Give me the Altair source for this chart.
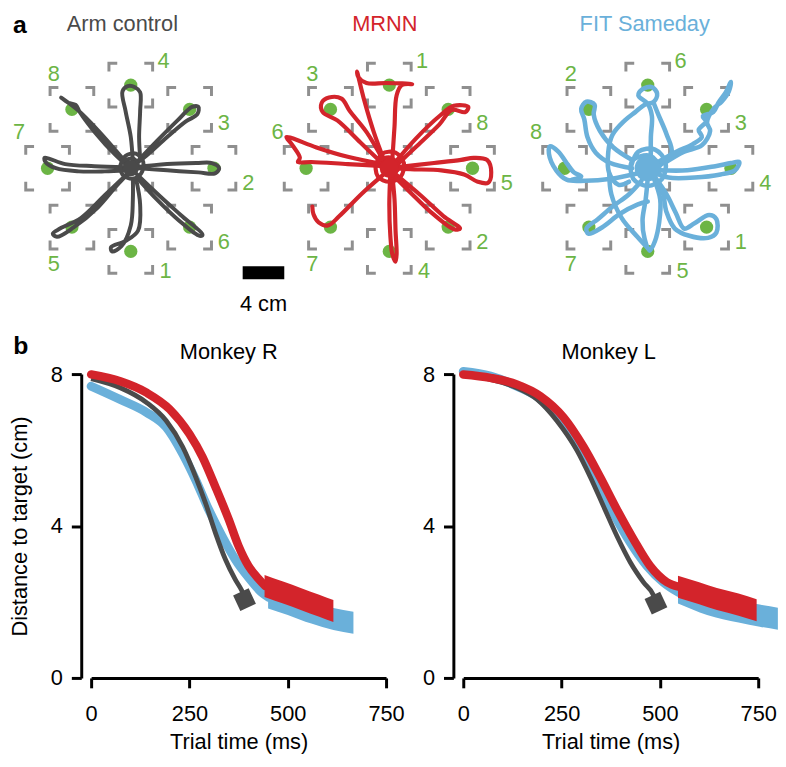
import altair as alt
import pandas as pd

FONT = "Liberation Sans"
GRAY = "#4a4a4a"
RED = "#d3242b"
BLUE = "#6ab0da"
GREEN = "#6cb545"
BRACKET = "#8f8f8f"

# ---------------- panel a : targets ----------------
# slot order: right, up-right, top, up-left, left, down-left, bottom, down-right
SLOT_X = [8.0, 5.66, 0.0, -5.66, -8.0, -5.66, 0.0, 5.66]
SLOT_Y = [0.0, 5.66, 8.0, 5.66, 0.0, -5.66, -8.0, -5.66]
LABEL_X = [11.3, 8.95, 3.15, -7.4, -10.75, -7.4, 3.35, 8.95]
LABEL_Y = [-1.4, 4.3, 10.3, 9.05, 3.45, -9.25, -9.9, -7.15]
PANEL_NAMES = ["Arm control", "MRNN", "FIT Sameday"]
PANEL_CENTER = [0.0, 24.86, 49.71]      # cm, centre of each workspace along a shared axis
TITLE_X = [-0.81, -0.43, -0.29]         # cm, relative to each centre
ARM_LABELS = ["2", "3", "4", "8", "7", "5", "1", "6"]
MRNN_LABELS = ["5", "8", "1", "3", "6", "7", "4", "2"]
FIT_LABELS = ["4", "3", "6", "2", "8", "7", "5", "1"]
WINDOW_HALF = 2.1   # cm
WINDOW_ARM = 0.8    # cm
SCALE_BAR_CM = 4

ARM_TRAJ = [
    [(0.2, 0.5), (0.0, 3.0), (-0.5, 5.5), (-0.8, 7.4), (-0.3, 7.9), (0.4, 7.8), (0.9, 7.3), (0.9, 5.5), (0.8, 3.0), (0.9, 1.0)],
    [(0.5, 0.5), (2.5, 2.6), (4.5, 4.6), (5.9, 5.9), (6.5, 5.9), (6.4, 5.2), (5.3, 4.5), (3.5, 3.0), (1.5, 1.2), (0.3, 0.3)],
    [(0.5, 0.1), (3.5, 0.4), (6.3, 0.5), (7.8, 0.5), (8.5, 0.0), (8.1, -0.5), (6.5, -0.4), (3.5, -0.2), (0.8, 0.0)],
    [(0.4, -0.4), (2.5, -2.4), (4.8, -4.5), (6.9, -6.4), (6.6, -6.5), (4.6, -5.0), (2.5, -3.0), (0.6, -0.9)],
    [(0.5, -1.0), (0.9, -3.5), (0.7, -6.0), (-0.5, -7.0), (-1.9, -7.6), (-1.8, -8.0), (-0.9, -7.5), (0.0, -5.5), (0.2, -3.0), (0.2, -1.0)],
    [(-0.4, -0.6), (-2.5, -2.6), (-4.8, -4.8), (-6.8, -5.8), (-7.5, -6.3), (-7.1, -6.6), (-5.5, -5.7), (-3.2, -3.8), (-1.2, -1.5), (-0.2, -0.5)],
    [(-0.5, 0.1), (-3.5, 0.2), (-6.3, 0.4), (-7.8, 0.9), (-8.3, 1.0), (-8.2, 0.6), (-7.2, 0.0), (-5.0, -0.3), (-2.5, -0.3), (-0.5, -0.2)],
    [(-0.4, 0.5), (-3.2, 3.7), (-5.1, 5.6), (-6.7, 6.8), (-6.0, 6.3), (-5.3, 6.1), (-4.9, 5.4), (-3.4, 3.4), (-1.5, 1.3), (-0.3, 0.2)],
    [(-1.0, 0.3), (-0.5, 1.2), (0.5, 1.4), (1.2, 0.6), (1.0, -0.5), (0.2, -1.0), (-0.8, -0.6), (-0.9, 0.5), (0.3, 0.9), (0.7, 0.1), (0.1, -0.4), (-0.4, 0.1)],
]

MRNN_TRAJ = [
    [(-0.4, 0.5), (-1.5, 3.5), (-2.4, 6.5), (-3.1, 9.3), (-3.0, 8.8), (-2.2, 8.2), (-0.3, 8.2), (2.2, 8.1), (1.2, 8.0), (0.7, 7.0), (0.5, 4.0), (0.3, 1.0)],
    [(0.5, 0.5), (2.6, 2.9), (4.8, 5.0), (6.2, 6.0), (7.6, 5.9), (7.3, 5.4), (6.0, 5.6), (4.8, 4.2), (2.5, 2.0), (0.6, 0.2)],
    [(0.6, 0.1), (4.3, 0.5), (6.9, 0.8), (8.1, 1.0), (9.4, 0.8), (9.8, -0.4), (9.5, -1.4), (8.5, -1.3), (7.2, -0.6), (5.0, -0.2), (2.0, -0.1), (0.4, 0.0)],
    [(0.5, -0.5), (3.0, -2.6), (5.2, -4.6), (6.8, -5.8), (6.3, -5.9), (4.2, -4.4), (2.0, -2.3), (0.3, -0.6)],
    [(0.1, -0.5), (0.0, -3.5), (0.1, -6.5), (0.3, -8.3), (0.6, -9.0), (0.7, -8.3), (0.6, -6.0), (0.5, -3.0), (0.3, -0.8)],
    [(-0.2, -0.3), (-2.6, -2.4), (-4.8, -4.6), (-5.9, -5.5), (-6.8, -5.2), (-7.3, -4.4), (-7.4, -3.7)],
    [(-0.5, 0.2), (-4.0, 0.4), (-7.5, 0.6), (-8.8, 0.6), (-8.6, 1.0), (-9.3, 2.2), (-9.9, 3.0), (-9.4, 2.9), (-7.0, 2.0), (-4.0, 1.1), (-0.6, 0.4)],
    [(-0.5, 0.3), (-2.8, 2.5), (-5.0, 4.6), (-6.4, 5.4), (-6.5, 6.3), (-5.8, 6.8), (-4.6, 6.7), (-3.8, 5.5), (-2.2, 3.5), (-0.6, 0.8)],
    [(-1.3, 0.2), (-0.7, 1.4), (0.6, 1.5), (1.4, 0.5), (1.1, -0.8), (0.0, -1.3), (-1.1, -0.8), (-1.2, 0.6), (0.2, 1.0), (0.9, 0.0), (0.0, -0.6), (-0.6, 0.2), (0.3, 0.4)],
]

FIT_TRAJ = [
    [(0.3, 0.5), (0.3, 3.0), (0.4, 5.0), (0.0, 6.2), (-0.9, 7.0), (-0.5, 7.6), (0.4, 7.8), (0.9, 7.2), (0.6, 6.4), (-0.3, 6.1), (-1.2, 5.4), (-2.2, 4.6), (-3.4, 3.2), (-3.8, 1.5), (-3.7, -0.5), (-2.8, -1.6), (-1.8, -1.3)],
    [(0.6, 6.2), (1.0, 5.2), (1.8, 3.3), (2.3, 1.5), (1.2, 0.3)],
    [(-1.5, 0.0), (-3.6, 0.5), (-5.0, 1.5), (-5.8, 3.0), (-6.1, 4.7), (-6.4, 5.7), (-5.9, 6.4), (-5.1, 6.1), (-5.2, 5.2), (-4.6, 3.6), (-3.3, 2.0), (-1.5, 0.8)],
    [(1.0, 0.6), (2.8, 1.6), (4.3, 2.3), (5.2, 3.0), (4.9, 3.7), (5.6, 4.5), (5.3, 5.0), (6.3, 5.4), (6.8, 6.3), (7.5, 7.3), (8.0, 8.3), (7.8, 7.4), (7.1, 6.4), (6.4, 5.8), (5.7, 4.4), (6.0, 3.6), (5.2, 2.2), (3.5, 1.6), (1.6, 0.5)],
    [(1.2, -0.2), (3.8, -0.2), (6.5, 0.2), (8.0, 0.5), (8.8, 0.6), (8.4, -0.2), (7.0, -0.6), (4.5, -0.9), (2.0, -0.9), (0.8, -0.5)],
    [(-1.0, -0.5), (-3.5, -1.0), (-6.0, -1.2), (-7.8, -1.1), (-8.8, -0.2), (-9.5, 1.4), (-9.4, 2.1), (-8.6, 1.6), (-7.8, 0.5), (-7.1, -0.4), (-6.4, -0.8), (-7.3, -1.1)],
    [(-0.6, -1.2), (-1.8, -2.5), (-3.4, -3.7), (-4.8, -4.9), (-5.9, -5.8), (-5.7, -6.3), (-4.4, -5.7), (-2.7, -4.4), (-1.0, -3.5), (0.0, -3.2)],
    [(0.0, -1.0), (-0.2, -3.0), (-0.5, -5.0), (-0.3, -6.8), (0.2, -7.9), (0.7, -7.0), (1.1, -5.2), (1.2, -3.0), (0.6, -1.0)],
    [(-3.7, -0.5), (-3.5, -2.5), (-2.5, -4.8), (-1.0, -6.6), (0.2, -7.9)],
    [(0.8, -1.0), (1.8, -2.5), (2.7, -4.3), (3.5, -5.8), (4.5, -5.3), (5.9, -4.5), (6.6, -4.9), (6.6, -6.2), (5.8, -6.7), (4.0, -6.5), (2.6, -5.8), (1.8, -4.2), (1.4, -2.2), (0.5, -0.8)],
    [(-1.6, 0.2), (-0.9, 1.6), (0.7, 1.8), (1.7, 0.6), (1.4, -1.0), (0.0, -1.7), (-1.4, -1.0), (-1.5, 0.7), (0.2, 1.2), (1.1, 0.1), (0.1, -0.9), (-0.8, 0.0), (0.4, 0.6), (0.5, -0.4), (-0.3, -0.3)],
]
BLOB_SIZE = [260, 380, 700]

# ---------------- panel b : distance to target ----------------
R_GRAY_T = [0, 74, 141, 191, 233, 266, 291, 316, 341, 366, 383, 392]
R_GRAY_D = [7.88, 7.64, 7.25, 6.77, 6.08, 5.29, 4.60, 3.82, 3.13, 2.60, 2.30, 2.08]
R_RED_T = [0, 74, 141, 200, 250, 283, 316, 350, 375, 400, 425, 443]
R_RED_D = [7.99, 7.81, 7.51, 7.07, 6.42, 5.82, 5.03, 4.17, 3.47, 2.95, 2.62, 2.42]
R_RED_THICK_T = [441, 490, 533, 580, 616]
R_RED_THICK_D = [2.42, 2.24, 2.08, 1.90, 1.76]
R_BLUE_T = [0, 74, 141, 191, 233, 266, 299, 333, 366, 400, 433, 452]
R_BLUE_D = [7.68, 7.33, 6.99, 6.60, 5.90, 5.21, 4.43, 3.73, 3.13, 2.65, 2.26, 2.12]
R_BLUE_THICK_T = [450, 500, 560, 616, 667]
R_BLUE_THICK_D = [2.12, 1.95, 1.72, 1.55, 1.45]
R_END_T = [390]
R_END_D = [2.06]

L_GRAY_T = [0, 69, 136, 187, 238, 289, 323, 357, 391, 425, 458, 484, 490]
L_GRAY_D = [7.99, 7.86, 7.64, 7.34, 6.77, 5.99, 5.29, 4.51, 3.73, 3.04, 2.52, 2.17, 2.0]
L_RED_T = [0, 69, 136, 196, 255, 306, 348, 391, 433, 475, 518, 548]
L_RED_D = [7.99, 7.90, 7.73, 7.42, 6.86, 6.08, 5.29, 4.43, 3.65, 2.95, 2.52, 2.40]
L_RED_THICK_T = [546, 600, 645, 700, 746]
L_RED_THICK_D = [2.40, 2.23, 2.08, 1.93, 1.78]
L_BLUE_T = [0, 69, 136, 196, 247, 297, 340, 382, 425, 467, 509, 548]
L_BLUE_D = [8.07, 7.95, 7.68, 7.34, 6.77, 5.99, 5.21, 4.34, 3.56, 2.95, 2.52, 2.25]
L_BLUE_THICK_T = [546, 620, 700, 754, 800]
L_BLUE_THICK_D = [2.25, 1.95, 1.75, 1.64, 1.56]
L_END_T = [490]
L_END_D = [1.97]

X_TICKS = [0, 250, 500, 750]
Y_TICKS = [0, 4, 8]
THICK_HALF = 0.29   # half band height of the thick (settling) segments, in cm

# ---------------- top row : one view, three workspaces side by side ----------------
XS = alt.Scale(domain=[-11.33, 61.95], nice=False, zero=False)
YS = alt.Scale(domain=[-11.9, 14.95], nice=False, zero=False)
EX = alt.X("x:Q", scale=XS, axis=None)
EY = alt.Y("y:Q", scale=YS, axis=None)


def bracket_df():
    rows = []
    wx = [0.0] + SLOT_X
    wy = [0.0] + SLOT_Y
    h, a = WINDOW_HALF, WINDOW_ARM
    for p, off in enumerate(PANEL_CENTER):
        for w, (cx, cy) in enumerate(zip(wx, wy)):
            for sx in (-1, 1):
                for sy in (-1, 1):
                    key = f"{p}_{w}_{sx}_{sy}"
                    pts = [(cx + sx * (h - a), cy + sy * h), (cx + sx * h, cy + sy * h),
                           (cx + sx * h, cy + sy * (h - a))]
                    for i, (x, y) in enumerate(pts):
                        rows.append({"key": key, "i": i, "x": x + off, "y": y})
    return pd.DataFrame(rows)


def traj_df(trajs, off):
    rows = []
    for k, pts in enumerate(trajs):
        for i, (x, y) in enumerate(pts):
            rows.append({"traj": k, "i": i, "x": x + off, "y": y})
    return pd.DataFrame(rows)


dot_df = pd.DataFrame({
    "x": [x + off for off in PANEL_CENTER for x in SLOT_X],
    "y": [y for _ in PANEL_CENTER for y in SLOT_Y],
})
label_df = pd.DataFrame({
    "x": [x + off for off in PANEL_CENTER for x in LABEL_X],
    "y": [y for _ in PANEL_CENTER for y in LABEL_Y],
    "t": ARM_LABELS + MRNN_LABELS + FIT_LABELS,
})

top_layers = [
    alt.Chart(bracket_df()).mark_line(color=BRACKET, strokeWidth=3, strokeCap="butt", strokeJoin="miter")
    .encode(x=EX, y=EY, detail="key:N", order="i:Q"),
    alt.Chart(dot_df).mark_circle(color=GREEN, opacity=1, size=180).encode(x=EX, y=EY),
]
for trajs, color, w, off, blob in zip([ARM_TRAJ, MRNN_TRAJ, FIT_TRAJ], [GRAY, RED, BLUE],
                                      [4.0, 4.2, 4.6], PANEL_CENTER, BLOB_SIZE):
    top_layers.append(
        alt.Chart(traj_df(trajs, off)).mark_line(color=color, strokeWidth=w, interpolate="catmull-rom",
                                                 strokeCap="round", strokeJoin="round")
        .encode(x=EX, y=EY, detail="traj:N", order="i:Q"))
    top_layers.append(
        alt.Chart(pd.DataFrame({"x": [off], "y": [0.0]})).mark_circle(color=color, opacity=1, size=blob)
        .encode(x=EX, y=EY))
top_layers.append(
    alt.Chart(label_df).mark_text(font=FONT, fontSize=22, color=GREEN, align="center", baseline="middle")
    .encode(x=EX, y=EY, text="t:N"))
for name, tx, off, color in zip(PANEL_NAMES, TITLE_X, PANEL_CENTER, [GRAY, RED, BLUE]):
    top_layers.append(
        alt.Chart(pd.DataFrame({"x": [tx + off], "y": [13.24], "t": [name]}))
        .mark_text(font=FONT, fontSize=22, color=color, align="center", baseline="alphabetic")
        .encode(x=EX, y=EY, text="t:N"))
top_layers += [
    alt.Chart(pd.DataFrame({"x": [-11.33], "y": [13.05], "t": ["a"]}))
    .mark_text(font=FONT, fontSize=25, fontWeight="bold", color="black", align="left", baseline="alphabetic")
    .encode(x=EX, y=EY, text="t:N"),
    alt.Chart(pd.DataFrame({"x": [10.76], "x2": [10.76 + SCALE_BAR_CM], "y": [-9.43], "y2": [-10.67]}))
    .mark_rect(color="black").encode(x=EX, x2="x2:Q", y=EY, y2="y2:Q"),
    alt.Chart(pd.DataFrame({"x": [12.76], "y": [-13.05], "t": [f"{SCALE_BAR_CM} cm"]}))
    .mark_text(font=FONT, fontSize=22, color="black", align="center", baseline="middle")
    .encode(x=EX, y=EY, text="t:N"),
]
top = alt.layer(*top_layers).properties(width=770, height=282)

# ---------------- bottom panels ----------------
TX = alt.Scale(domain=[0, 750], nice=False, zero=False)
DY = alt.Scale(domain=[0, 8], nice=False, zero=False)


def x_axis():
    return alt.Axis(values=X_TICKS, title="Trial time (ms)", grid=False, tickSize=10, tickWidth=3,
                    domainWidth=3, domainColor="black", tickColor="black", labelColor="black",
                    labelFont=FONT, labelFontSize=22, labelPadding=16, labelFlush=False,
                    titleFont=FONT, titleFontSize=22, titleFontWeight="normal", titleColor="black",
                    titlePadding=7, format="d")


def y_axis(title):
    return alt.Axis(values=Y_TICKS, title=title, grid=False, tickSize=10, tickWidth=3, offset=10,
                    domainWidth=3, domainColor="black", tickColor="black", labelColor="black",
                    labelFont=FONT, labelFontSize=22, labelPadding=9, labelFlush=False,
                    titleFont=FONT, titleFontSize=22, titleFontWeight="normal", titleColor="black",
                    titlePadding=19, format="d")


def bottom_panel(name, name_t, ytitle, thin, thick, end_t, end_d, letter=False):
    X = alt.X("t:Q", scale=TX, axis=x_axis())
    Y = alt.Y("d:Q", scale=DY, axis=y_axis(ytitle))
    YLO = alt.Y("lo:Q", scale=DY, axis=y_axis(ytitle))
    layers = []
    # thin movement-phase lines: blue, gray, red ; thick settling bands drawn as areas
    (bt, bd), (gt, gd), (rt, rd) = thin
    (btk, bdk), (rtk, rdk) = thick

    def band(t, d, color):
        return alt.Chart(pd.DataFrame({"t": t, "d": d})).transform_calculate(
            lo=f"datum.d - {THICK_HALF}", hi=f"datum.d + {THICK_HALF}"
        ).mark_area(color=color, opacity=1, interpolate="monotone").encode(x=X, y=YLO, y2="hi:Q")

    def line(t, d, color, w, cap):
        return alt.Chart(pd.DataFrame({"t": t, "d": d})).mark_line(
            color=color, strokeWidth=w, strokeCap=cap, strokeJoin="round", interpolate="monotone"
        ).encode(x=X, y=Y)

    layers.append(line(bt, bd, BLUE, 9, "round"))
    layers.append(band(btk, bdk, BLUE))
    layers.append(line(gt, gd, GRAY, 4.8, "butt"))
    layers.append(alt.Chart(pd.DataFrame({"t": end_t, "d": end_d})).mark_square(
        color=GRAY, opacity=1, size=300, angle=65
    ).encode(x=X, y=Y))
    layers.append(line(rt, rd, RED, 8.5, "round"))
    layers.append(band(rtk, rdk, RED))
    layers.append(alt.Chart(pd.DataFrame({"t": [name_t], "d": [8.39], "s": [name]})).mark_text(
        font=FONT, fontSize=22, color="black", align="center", baseline="alphabetic"
    ).encode(x=X, y=Y, text="s:N"))
    if letter:
        layers.append(alt.Chart(pd.DataFrame({"t": [-198], "d": [8.52], "s": ["b"]})).mark_text(
            font=FONT, fontSize=25, fontWeight="bold", color="black", align="left", baseline="alphabetic"
        ).encode(x=X, y=Y, text="s:N"))
    return alt.layer(*layers).properties(width=298, height=307)


p_r = bottom_panel("Monkey R", 350, "Distance to target (cm)",
                   [(R_BLUE_T, R_BLUE_D), (R_GRAY_T, R_GRAY_D), (R_RED_T, R_RED_D)],
                   [(R_BLUE_THICK_T, R_BLUE_THICK_D), (R_RED_THICK_T, R_RED_THICK_D)],
                   R_END_T, R_END_D, letter=True)
p_l = bottom_panel("Monkey L", 370, "",
                   [(L_BLUE_T, L_BLUE_D), (L_GRAY_T, L_GRAY_D), (L_RED_T, L_RED_D)],
                   [(L_BLUE_THICK_T, L_BLUE_THICK_D), (L_RED_THICK_T, L_RED_THICK_D)],
                   L_END_T, L_END_D)

spacer = alt.Chart(pd.DataFrame({"v": [0]})).mark_point(opacity=0, size=1).encode(
    x=alt.value(0), y=alt.value(0)
).properties(width=1, height=307)

bottom = alt.hconcat(spacer, p_r, p_l, spacing=78, bounds="flush")

chart = alt.vconcat(top, bottom, spacing=83, bounds="flush").properties(
    padding=0, background="white"
).configure(font=FONT).configure_view(strokeWidth=0)

chart.save("out.html", embed_options={"renderer": "svg", "actions": False})
